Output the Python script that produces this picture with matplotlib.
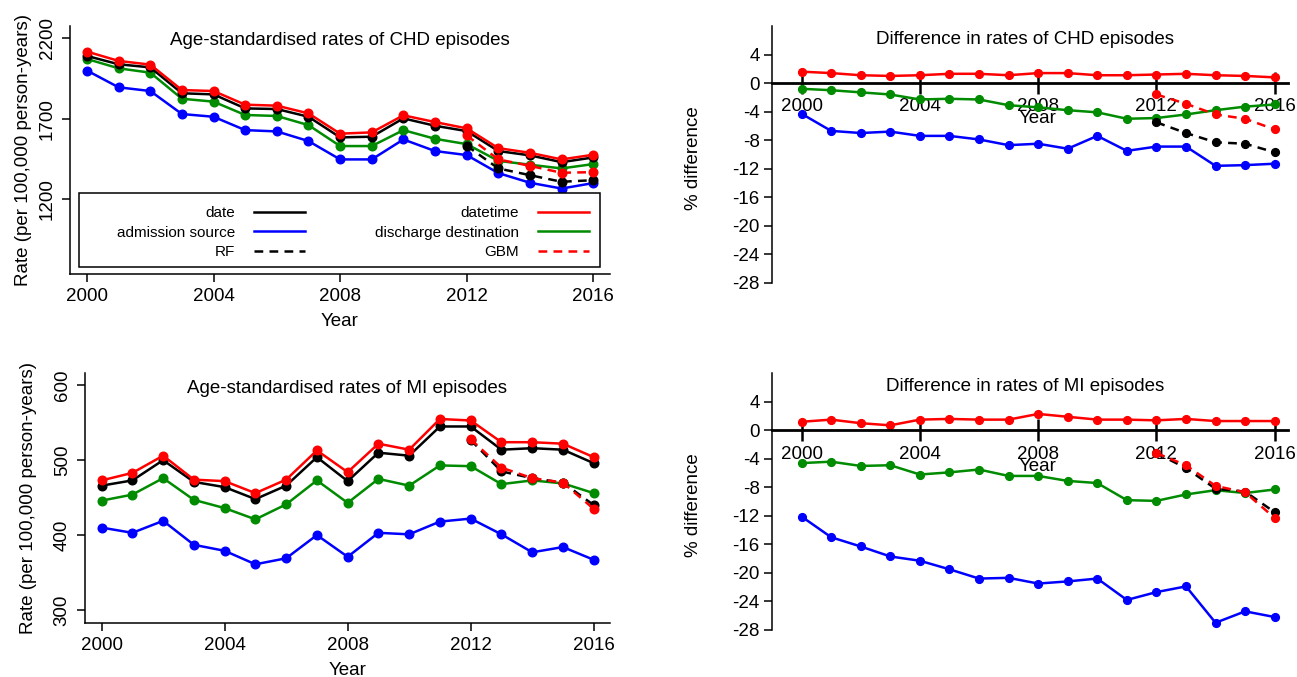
import numpy as np
import matplotlib.pyplot as plt
from matplotlib.patches import Rectangle

plt.rcParams['font.family'] = ['Liberation Sans', 'DejaVu Sans']
plt.rcParams['axes.unicode_minus'] = False

years = np.arange(2000, 2017)
years_ml = np.arange(2012, 2017)

# CHD episode rates (per 100,000 person-years)
chd_date = [2090, 2038, 2019, 1858, 1851, 1764, 1760, 1712, 1584, 1588, 1702, 1656, 1623, 1499, 1472, 1430, 1459]
chd_datetime = [2117, 2059, 2036, 1878, 1872, 1787, 1781, 1733, 1607, 1615, 1721, 1679, 1640, 1517, 1488, 1447, 1476]
chd_admission = [1999, 1895, 1872, 1729, 1712, 1629, 1621, 1561, 1447, 1447, 1571, 1499, 1474, 1362, 1302, 1266, 1300]
chd_discharge = [2071, 2013, 1986, 1824, 1806, 1723, 1717, 1660, 1530, 1530, 1629, 1575, 1542, 1438, 1414, 1391, 1418]
chd_rf = [1532, 1391, 1349, 1308, 1318]
chd_gbm = [1596, 1447, 1407, 1364, 1368]

# MI episode rates
mi_date = [466, 473, 500, 471, 464, 448, 466, 504, 472, 510, 506, 545, 545, 514, 516, 514, 496]
mi_datetime = [473, 483, 506, 474, 472, 456, 474, 513, 484, 522, 514, 555, 553, 524, 524, 522, 504]
mi_admission = [410, 403, 419, 387, 379, 361, 369, 400, 371, 403, 401, 418, 422, 401, 377, 384, 367]
mi_discharge = [446, 454, 476, 447, 436, 421, 441, 473, 443, 475, 466, 493, 492, 468, 473, 469, 456]
mi_rf = [527, 485, 476, 470, 440]
mi_gbm = [528, 490, 476, 470, 435]

# % difference relative to "date"
chd_diff_datetime = [1.6, 1.4, 1.1, 1.0, 1.1, 1.3, 1.3, 1.1, 1.4, 1.4, 1.1, 1.1, 1.2, 1.3, 1.1, 1.0, 0.8]
chd_diff_admission = [-4.3, -6.7, -7.0, -6.8, -7.4, -7.4, -7.9, -8.7, -8.5, -9.2, -7.4, -9.5, -8.9, -8.9, -11.6, -11.5, -11.3]
chd_diff_discharge = [-0.8, -1.0, -1.3, -1.6, -2.3, -2.2, -2.3, -3.1, -3.4, -3.8, -4.1, -5.0, -4.9, -4.4, -3.8, -3.3, -3.0]
chd_diff_rf = [-5.5, -7.0, -8.3, -8.5, -9.7]
chd_diff_gbm = [-1.6, -2.9, -4.4, -5.0, -6.5]

mi_diff_datetime = [1.2, 1.5, 1.0, 0.7, 1.5, 1.6, 1.5, 1.5, 2.3, 1.9, 1.5, 1.5, 1.4, 1.6, 1.3, 1.3, 1.3]
mi_diff_admission = [-12.1, -15.0, -16.3, -17.7, -18.3, -19.5, -20.8, -20.7, -21.5, -21.2, -20.8, -23.8, -22.7, -21.9, -27.0, -25.4, -26.2]
mi_diff_discharge = [-4.6, -4.4, -5.0, -4.9, -6.2, -5.9, -5.5, -6.4, -6.4, -7.1, -7.4, -9.8, -9.9, -9.0, -8.4, -8.8, -8.3]
mi_diff_rf = [-3.2, -5.3, -8.2, -8.6, -11.5]
mi_diff_gbm = [-3.2, -4.9, -7.8, -8.7, -12.3]

GREEN = '#008B00'
FS = 13.5
LW = 1.8
MS = 6.2
DASH = (3.5, 2.5)

W, H = 1297, 677
fig = plt.figure(figsize=(12.97, 6.77), dpi=100)


def px_axes(x0, y0, x1, y1):
    return fig.add_axes([x0 / W, 1 - y1 / H, (x1 - x0) / W, (y1 - y0) / H])


def draw_rates(ax, date, datetime, adm, dis, rf, gbm, title, ylim, yticks, ylabelpad):
    ax.plot(years, adm, color='blue', lw=LW, marker='o', ms=MS)
    ax.plot(years, dis, color=GREEN, lw=LW, marker='o', ms=MS)
    ax.plot(years, date, color='black', lw=LW, marker='o', ms=MS)
    ax.plot(years, datetime, color='red', lw=LW, marker='o', ms=MS)
    ax.plot(years_ml, rf, color='black', lw=LW, marker='o', ms=MS, dashes=DASH)
    ax.plot(years_ml, gbm, color='red', lw=LW, marker='o', ms=MS, dashes=DASH)
    ax.set_xlim(1999.45, 2016.53)
    ax.set_ylim(*ylim)
    ax.set_xticks(range(2000, 2017, 4))
    ax.set_yticks(yticks)
    ax.set_yticklabels([str(v) for v in yticks], rotation=90, va='center')
    ax.tick_params(labelsize=FS, length=6, width=1.1, direction='out', pad=4)
    for s in ['top', 'right']:
        ax.spines[s].set_visible(False)
    for s in ['left', 'bottom']:
        ax.spines[s].set_linewidth(1.1)
    ax.set_xlabel('Year', fontsize=FS, labelpad=6)
    ax.set_ylabel('Rate (per 100,000 person-years)', fontsize=FS, labelpad=ylabelpad)
    ax.text(0.5, 0.94, title, transform=ax.transAxes, ha='center', va='center', fontsize=FS)


def draw_diff(ax, dt, adm, dis, rf, gbm, title):
    ax.plot(years, dt, color='red', lw=LW, marker='o', ms=MS - 0.6)
    ax.plot(years, dis, color=GREEN, lw=LW, marker='o', ms=MS - 0.6)
    ax.plot(years, adm, color='blue', lw=LW, marker='o', ms=MS - 0.6)
    ax.plot(years_ml, rf, color='black', lw=LW, marker='o', ms=MS - 0.6, dashes=DASH)
    ax.plot(years_ml, gbm, color='red', lw=LW, marker='o', ms=MS - 0.6, dashes=DASH)
    ax.set_xlim(1999.0, 2016.45)
    ax.set_ylim(-29, 8)
    ax.set_yticks(range(-28, 5, 4))
    ax.set_xticks(range(2000, 2017, 4))
    for s in ['top', 'right']:
        ax.spines[s].set_visible(False)
    ax.spines['bottom'].set_position(('data', 0))
    ax.spines['bottom'].set_linewidth(2)
    ax.spines['left'].set_linewidth(1.1)
    ax.spines['left'].set_bounds(-28, 8)
    ax.tick_params(axis='x', direction='inout', length=16, width=1.8, labelsize=FS, pad=3)
    ax.tick_params(axis='y', direction='out', length=6, width=1.1, labelsize=FS, pad=3)
    ax.set_xlabel('Year', fontsize=FS)
    ax.xaxis.set_label_coords(0.515, 0.68)
    ax.set_ylabel('% difference', fontsize=FS, labelpad=22)
    ax.text(0.49, 0.95, title, transform=ax.transAxes, ha='center', va='center', fontsize=FS)


ax1 = px_axes(69.6, 26, 610, 274)
draw_rates(ax1, chd_date, chd_datetime, chd_admission, chd_discharge, chd_rf, chd_gbm,
           'Age-standardised rates of CHD episodes', (735, 2276), [1200, 1700, 2200], 5)

handles = [
    plt.Line2D([], [], color='black', lw=LW),
    plt.Line2D([], [], color='blue', lw=LW),
    plt.Line2D([], [], color='black', lw=LW, dashes=DASH),
    plt.Line2D([], [], color='red', lw=LW),
    plt.Line2D([], [], color=GREEN, lw=LW),
    plt.Line2D([], [], color='red', lw=LW, dashes=DASH),
]
labels = ['date', 'admission source', 'RF', 'datetime', 'discharge destination', 'GBM']
box = Rectangle((0.0183, 0.0282), 0.9632, 0.2984, transform=ax1.transAxes,
                facecolor='white', edgecolor='black', lw=1.1, zorder=5)
ax1.add_patch(box)
leg = ax1.legend(handles, labels, ncol=2, loc='upper right',
                 bbox_to_anchor=(0.9612, 0.273), markerfirst=False, frameon=False,
                 fontsize=11, handlelength=3.33, labelspacing=0.36, borderpad=0,
                 borderaxespad=0, handletextpad=1.24, columnspacing=4.6)
leg.set_zorder(6)

ax2 = px_axes(772, 26, 1288, 290)
draw_diff(ax2, chd_diff_datetime, chd_diff_admission, chd_diff_discharge, chd_diff_rf, chd_diff_gbm,
          'Difference in rates of CHD episodes')

ax3 = px_axes(84.7, 373.3, 610, 622.7)
draw_rates(ax3, mi_date, mi_datetime, mi_admission, mi_discharge, mi_rf, mi_gbm,
           'Age-standardised rates of MI episodes', (283, 616), [300, 400, 500, 600], 12)

ax4 = px_axes(772, 373.3, 1288, 637)
draw_diff(ax4, mi_diff_datetime, mi_diff_admission, mi_diff_discharge, mi_diff_rf, mi_diff_gbm,
          'Difference in rates of MI episodes')

fig.savefig('out.png', dpi=100)
